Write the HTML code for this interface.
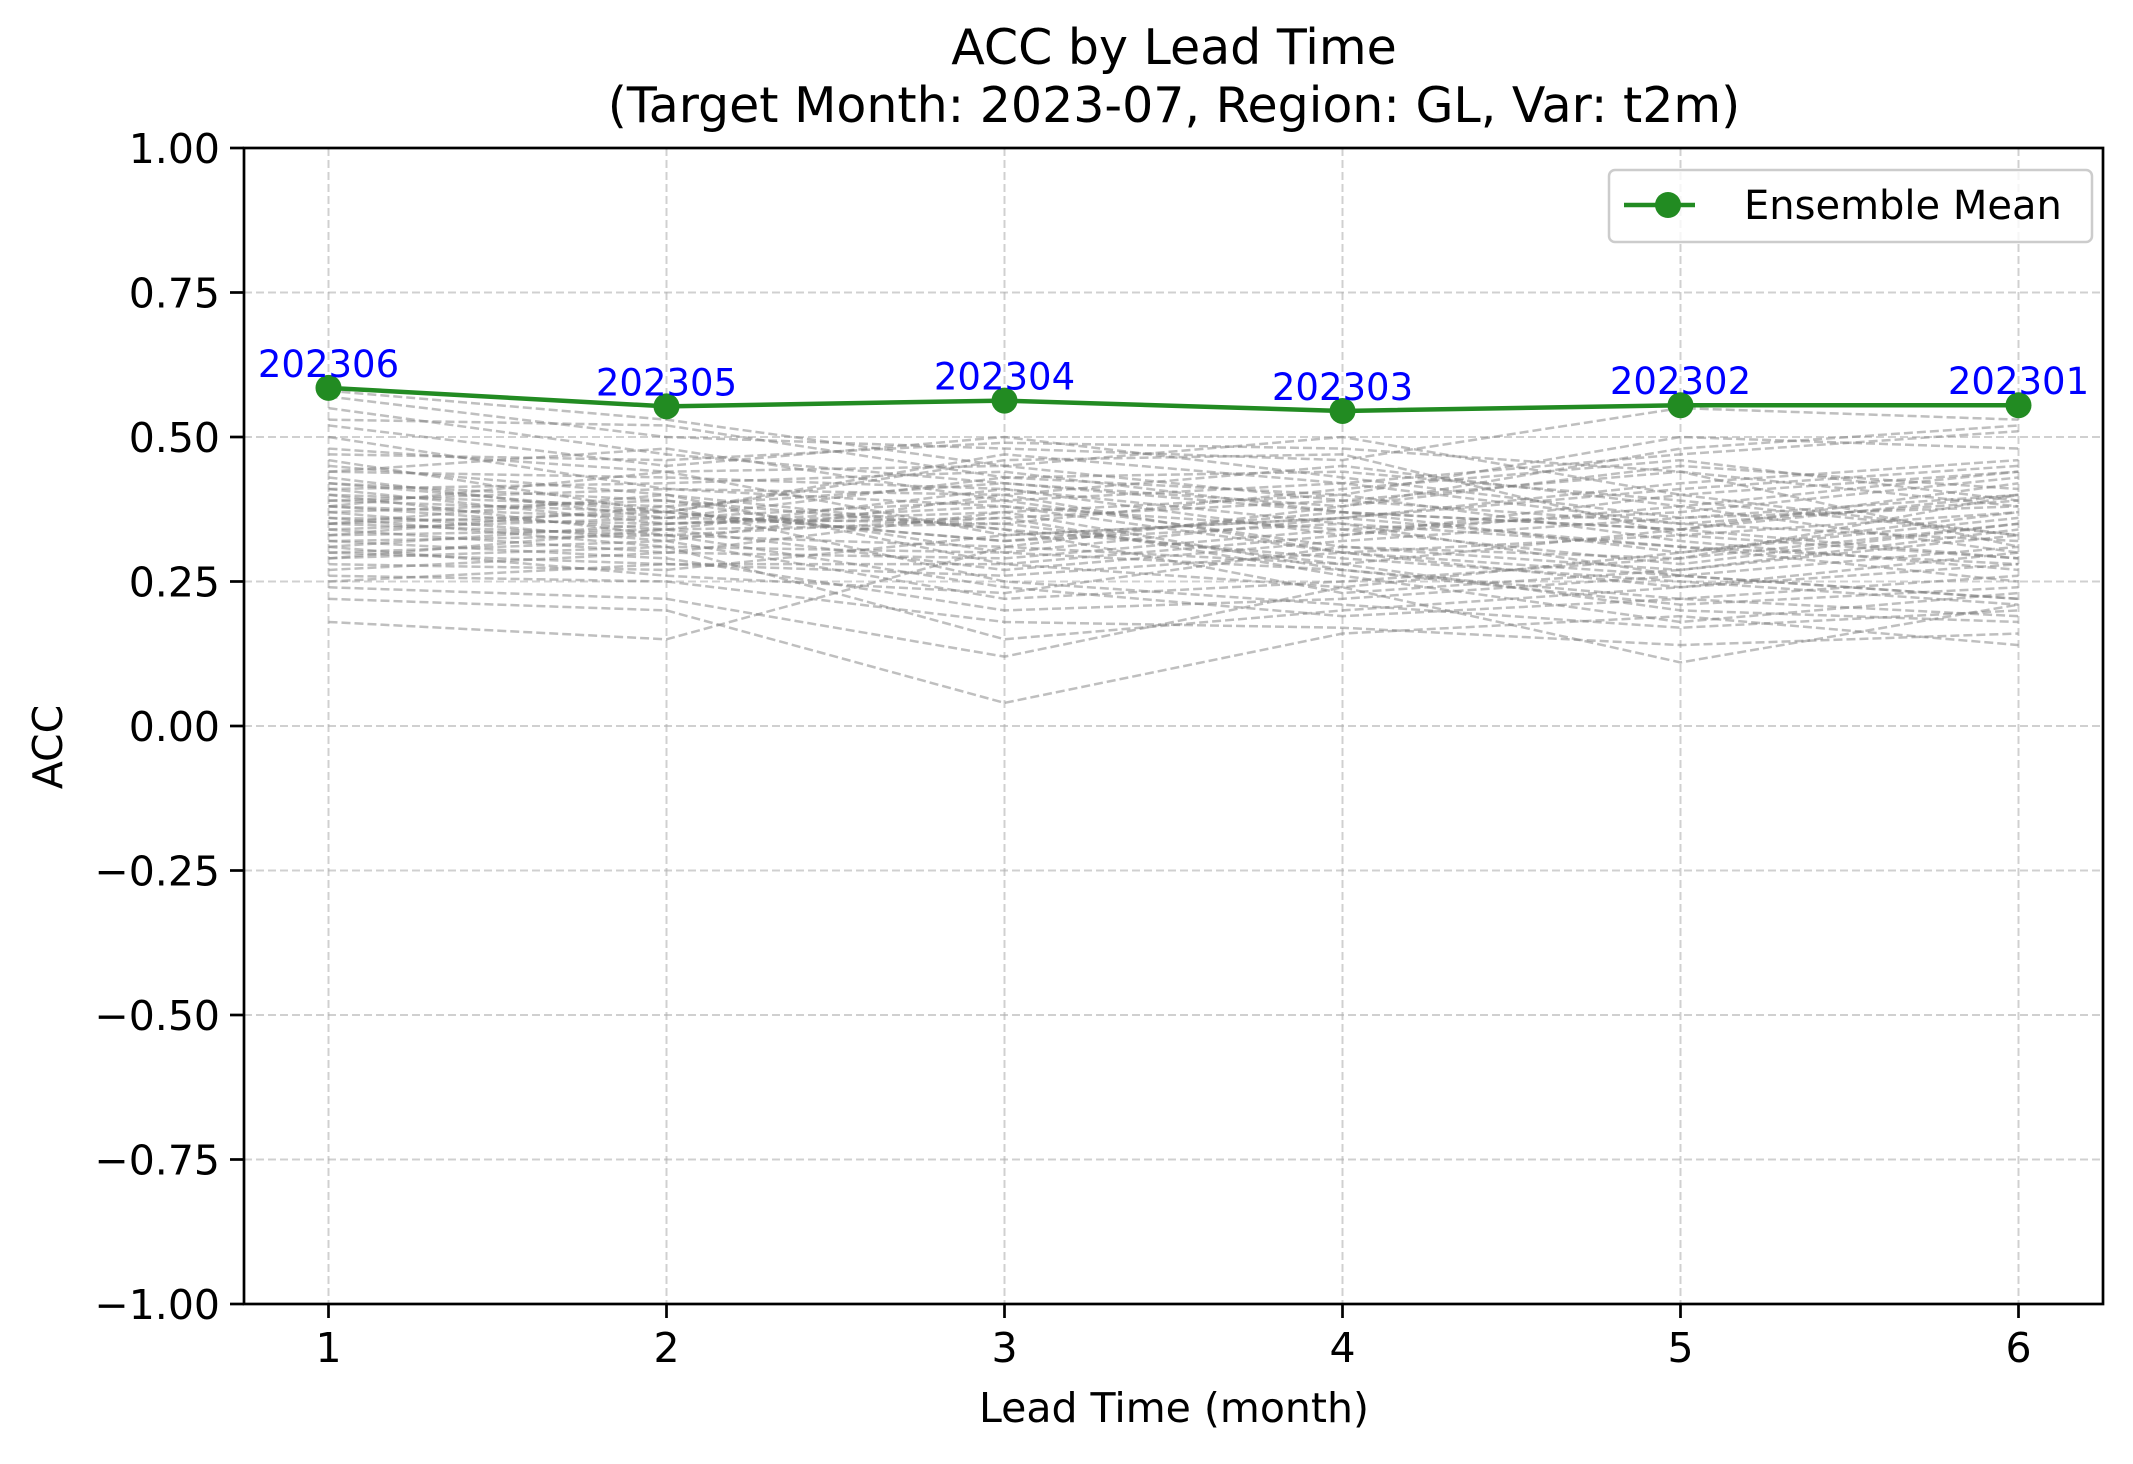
<!DOCTYPE html>
<html><head><meta charset="utf-8">
<style>
html,body{margin:0;padding:0;background:#fff;}
svg text{font-family:"DejaVu Sans","Liberation Sans",sans-serif;}
</style></head>
<body>
<svg id="chart" width="2133" height="1459" viewBox="0 0 2133 1459" xmlns="http://www.w3.org/2000/svg">
<rect width="2133" height="1459" fill="#fff"/>
<text x="1174" y="64" font-size="49" text-anchor="middle">ACC by Lead Time</text>
<text x="1174" y="122" font-size="49" text-anchor="middle">(Target Month: 2023-07, Region: GL, Var: t2m)</text>
<g id="grid"></g>
<g id="members"></g>
<g id="mean"></g>
<rect x="244" y="148" width="1859" height="1156" fill="none" stroke="#000" stroke-width="2.7"/>
<g id="xticks"></g>
<g id="yticks"></g>
<text x="1174" y="1422" font-size="41" text-anchor="middle">Lead Time (month)</text>
<text x="0" y="0" font-size="41" text-anchor="middle" transform="translate(62,747) rotate(-90)">ACC</text>
<g>
<rect x="1609" y="170" width="483" height="72" rx="6" fill="#fff" fill-opacity="0.8" stroke="#ccc" stroke-width="2.5"/>
<line x1="1624" y1="205" x2="1695" y2="205" stroke="#228B22" stroke-width="4.5"/>
<circle cx="1668" cy="205" r="13" fill="#228B22"/>
<text x="1744" y="219" font-size="40">Ensemble Mean</text>
</g>
</svg>
<script>
const leads = [1,2,3,4,5,6];
const meanValues = [0.585,0.553,0.563,0.545,0.555,0.555];
const initLabels = ["202306","202305","202304","202303","202302","202301"];
const yTickValues = [1.0,0.75,0.5,0.25,0,-0.25,-0.5,-0.75,-1.0];
const yTickLabels = ["1.00","0.75","0.50","0.25","0.00","\u22120.25","\u22120.50","\u22120.75","\u22121.00"];
const xTickLabels = ["1","2","3","4","5","6"];
const memberValues = [
[0.58,0.53,0.45,0.50,0.40,0.33],[0.55,0.47,0.42,0.38,0.48,0.52],[0.52,0.45,0.50,0.43,0.36,0.40],
[0.50,0.41,0.38,0.30,0.26,0.22],[0.48,0.44,0.33,0.36,0.41,0.45],[0.46,0.37,0.46,0.47,0.33,0.29],
[0.45,0.40,0.28,0.24,0.30,0.37],[0.44,0.43,0.41,0.33,0.38,0.44],[0.43,0.36,0.35,0.41,0.46,0.39],
[0.42,0.39,0.30,0.27,0.21,0.24],[0.41,0.35,0.38,0.34,0.28,0.35],[0.41,0.42,0.44,0.37,0.34,0.42],
[0.40,0.38,0.25,0.21,0.17,0.20],[0.40,0.33,0.36,0.39,0.44,0.31],[0.39,0.37,0.32,0.35,0.31,0.28],
[0.39,0.41,0.40,0.30,0.24,0.30],[0.38,0.34,0.27,0.32,0.36,0.38],[0.38,0.36,0.43,0.44,0.39,0.33],
[0.37,0.32,0.22,0.25,0.29,0.40],[0.37,0.39,0.34,0.29,0.25,0.21],[0.36,0.35,0.37,0.40,0.32,0.27],
[0.36,0.31,0.30,0.36,0.42,0.46],[0.35,0.37,0.47,0.42,0.35,0.32],[0.35,0.33,0.24,0.19,0.22,0.26],
[0.34,0.36,0.39,0.31,0.27,0.34],[0.34,0.30,0.29,0.34,0.37,0.43],[0.33,0.34,0.35,0.28,0.20,0.18],
[0.33,0.38,0.42,0.37,0.30,0.36],[0.32,0.29,0.20,0.22,0.26,0.31],[0.32,0.33,0.31,0.38,0.45,0.41],
[0.31,0.35,0.36,0.26,0.18,0.23],[0.30,0.28,0.26,0.30,0.33,0.37],[0.30,0.32,0.40,0.45,0.38,0.30],
[0.29,0.31,0.15,0.20,0.24,0.28],[0.28,0.27,0.33,0.36,0.31,0.25],[0.27,0.30,0.37,0.27,0.22,0.19],
[0.26,0.25,0.18,0.17,0.14,0.16],[0.25,0.28,0.28,0.33,0.40,0.44],[0.24,0.22,0.12,0.24,0.11,0.21],
[0.22,0.20,0.04,0.16,0.19,0.14],[0.18,0.15,0.31,0.28,0.34,0.40],[0.57,0.50,0.48,0.46,0.55,0.53],
[0.53,0.52,0.43,0.40,0.50,0.48],[0.47,0.46,0.49,0.48,0.44,0.38],[0.44,0.48,0.39,0.42,0.47,0.51],
[0.38,0.44,0.45,0.39,0.35,0.39],[0.35,0.40,0.34,0.23,0.27,0.33],[0.31,0.26,0.23,0.31,0.29,0.35],
[0.29,0.34,0.41,0.35,0.26,0.22],[0.42,0.37,0.32,0.37,0.34,0.29]
];
const X0=244,X1=2103,Y0=148,Y1=1304;
function xs(v){return X0+(v-0.75)/(6.25-0.75)*(X1-X0);}
function ys(v){return Y1-(v-(-1))/2*(Y1-Y0);}
const NS="http://www.w3.org/2000/svg";
function mk(tag,attrs,parent){const e=document.createElementNS(NS,tag);for(const k in attrs)e.setAttribute(k,attrs[k]);parent.appendChild(e);return e;}
const grid=document.getElementById('grid'),members=document.getElementById('members'),mean=document.getElementById('mean');
const xt=document.getElementById('xticks'),yt=document.getElementById('yticks');
leads.forEach((l,i)=>{
  const g=mk('line',{x1:xs(l),x2:xs(l),y1:Y0,y2:Y1,stroke:'#b0b0b0','stroke-opacity':0.6,'stroke-width':2,'stroke-dasharray':'8,4'},grid);
  
  
  const t=mk('line',{x1:xs(l),x2:xs(l),y1:Y1,y2:Y1+14,stroke:'#000','stroke-width':2.7},xt);
  
  
  const tx=mk('text',{x:xs(l),y:Y1+58,'font-size':41,'text-anchor':'middle'},xt);
  tx.textContent=xTickLabels[i];
  
  
});
yTickValues.forEach((v,i)=>{
  const g=mk('line',{x1:X0,x2:X1,y1:ys(v),y2:ys(v),stroke:'#b0b0b0','stroke-opacity':0.6,'stroke-width':2,'stroke-dasharray':'8,4'},grid);
  
  
  const t=mk('line',{x1:X0-14,x2:X0,y1:ys(v),y2:ys(v),stroke:'#000','stroke-width':2.7},yt);
  
  
  const tx=mk('text',{x:X0-24,y:ys(v)+15,'font-size':41,'text-anchor':'end'},yt);
  tx.textContent=yTickLabels[i];
  
  
});
memberValues.forEach(row=>{
  const p=mk('polyline',{points:row.map((v,i)=>xs(leads[i])+','+ys(v)).join(' '),fill:'none',stroke:'#808080','stroke-opacity':0.5,'stroke-width':2.5,'stroke-dasharray':'9,4'},members);
  
  
});
const ml=mk('polyline',{points:meanValues.map((v,i)=>xs(leads[i])+','+ys(v)).join(' '),fill:'none',stroke:'#228B22','stroke-width':4.5},mean);


meanValues.forEach((v,i)=>{
  const c=mk('circle',{cx:xs(leads[i]),cy:ys(v),r:13,fill:'#228B22'},mean);
  
  
  const t=mk('text',{x:xs(leads[i]),y:ys(v)-11,'font-size':37,'text-anchor':'middle',fill:'#0000ff'},mean);
  t.textContent=initLabels[i];
  
  
});
</script>
</body></html>
